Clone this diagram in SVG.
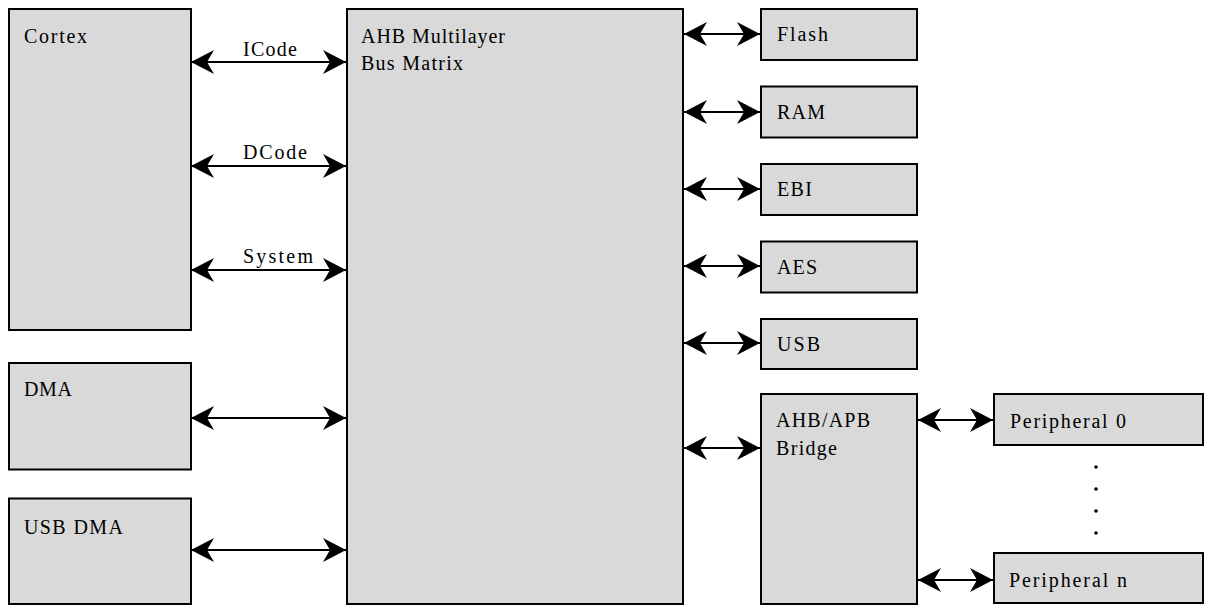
<svg xmlns="http://www.w3.org/2000/svg" width="1206" height="608" viewBox="0 0 1206 608">
<style>
.box{fill:#d9d9d9;stroke:#000;stroke-width:2}
.t{font-size:20px;fill:#000}
.c{stroke:#000;stroke-width:2;fill:none;marker-start:url(#ah);marker-end:url(#ah)}
</style>
<defs>
<marker id="ah" markerUnits="userSpaceOnUse" markerWidth="26" markerHeight="26" refX="23" refY="12" orient="auto-start-reverse">
<path d="M0,0 L23,12 L0,24 L7,12 Z" fill="#000"/>
</marker>
</defs>
<rect width="1206" height="608" fill="#fff"/>
<g font-family="Liberation Serif, Tinos, DejaVu Serif, serif">
<g id="cortex"><rect class="box" x="9" y="9" width="182" height="321"/><text class="t" x="24" y="43" textLength="63" lengthAdjust="spacing">Cortex</text></g>
<g id="dma"><rect class="box" x="9" y="363" width="182" height="106.5"/><text class="t" x="24" y="396" textLength="48" lengthAdjust="spacing">DMA</text></g>
<g id="usbdma"><rect class="box" x="9" y="498.5" width="182" height="105.5"/><text class="t" x="24" y="534" textLength="99" lengthAdjust="spacing">USB DMA</text></g>
<g id="matrix"><rect class="box" x="347" y="9" width="336" height="595"/><text class="t" x="361" y="43" textLength="144" lengthAdjust="spacing">AHB Multilayer</text><text class="t" x="361" y="69.5" textLength="102" lengthAdjust="spacing">Bus Matrix</text></g>
<g id="flash"><rect class="box" x="761" y="9" width="156" height="51"/><text class="t" x="777" y="41" textLength="51" lengthAdjust="spacing">Flash</text></g>
<g id="ram"><rect class="box" x="761" y="86.5" width="156" height="51"/><text class="t" x="777" y="119" textLength="48" lengthAdjust="spacing">RAM</text></g>
<g id="ebi"><rect class="box" x="761" y="164" width="156" height="51"/><text class="t" x="777" y="196" textLength="35" lengthAdjust="spacing">EBI</text></g>
<g id="aes"><rect class="box" x="761" y="241.5" width="156" height="51"/><text class="t" x="777" y="274" textLength="40" lengthAdjust="spacing">AES</text></g>
<g id="usb"><rect class="box" x="761" y="319" width="156" height="50"/><text class="t" x="777" y="351" textLength="43" lengthAdjust="spacing">USB</text></g>
<g id="bridge"><rect class="box" x="761" y="394" width="156" height="210"/><text class="t" x="776" y="427" textLength="94" lengthAdjust="spacing">AHB/APB</text><text class="t" x="776" y="455" textLength="61" lengthAdjust="spacing">Bridge</text></g>
<g id="periph0"><rect class="box" x="994" y="394" width="209" height="51"/><text class="t" x="1010" y="428" textLength="116" lengthAdjust="spacing">Peripheral 0</text></g>
<g id="periphn"><rect class="box" x="994" y="553" width="209" height="50"/><text class="t" x="1009" y="587" textLength="118" lengthAdjust="spacing">Peripheral n</text></g>
<g id="connectors">
<line class="c" x1="191" y1="62" x2="346" y2="62"/>
<line class="c" x1="191" y1="166" x2="346" y2="166"/>
<line class="c" x1="191" y1="270" x2="346" y2="270"/>
<line class="c" x1="191" y1="418" x2="346" y2="418"/>
<line class="c" x1="191" y1="550" x2="346" y2="550"/>
<line class="c" x1="684" y1="34" x2="760" y2="34"/>
<line class="c" x1="684" y1="112" x2="760" y2="112"/>
<line class="c" x1="684" y1="189" x2="760" y2="189"/>
<line class="c" x1="684" y1="266" x2="760" y2="266"/>
<line class="c" x1="684" y1="343" x2="760" y2="343"/>
<line class="c" x1="684" y1="448" x2="760" y2="448"/>
<line class="c" x1="918" y1="420" x2="993" y2="420"/>
<line class="c" x1="918" y1="580" x2="993" y2="580"/>
<text class="t" x="243" y="56" textLength="54" lengthAdjust="spacing">ICode</text>
<text class="t" x="243" y="159" textLength="64" lengthAdjust="spacing">DCode</text>
<text class="t" x="243" y="263" textLength="70" lengthAdjust="spacing">System</text>
</g>
</g>
<g id="dots" fill="#000">
<circle cx="1096" cy="467" r="1.8"/><circle cx="1096" cy="489" r="1.8"/><circle cx="1096" cy="511" r="1.8"/><circle cx="1096" cy="533" r="1.8"/>
</g>
</svg>
